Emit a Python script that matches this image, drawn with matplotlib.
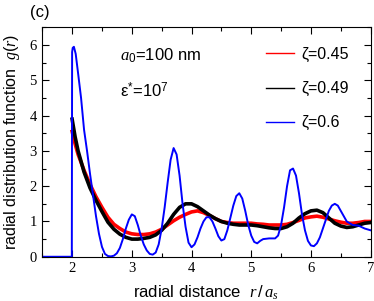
import matplotlib
matplotlib.use("Agg")
import matplotlib.pyplot as plt
from matplotlib.ticker import MultipleLocator
from matplotlib.lines import Line2D

plt.rcParams['font.family'] = ['Liberation Sans', 'DejaVu Sans']
plt.rcParams['mathtext.fontset'] = 'custom'
plt.rcParams['mathtext.rm'] = 'Liberation Sans'
plt.rcParams['mathtext.sf'] = 'Liberation Sans'
plt.rcParams['mathtext.it'] = 'Liberation Serif:italic'

# zeta = 0.6 (blue)
r_blue = [1.5, 1.995, 2.0, 2.01, 2.03, 2.06, 2.1, 2.15, 2.2, 2.25, 2.3, 2.35, 2.4, 2.45,
          2.5, 2.55, 2.6, 2.65, 2.7, 2.75, 2.8, 2.85, 2.9, 2.95, 3.0, 3.05, 3.1, 3.15,
          3.2, 3.25, 3.3, 3.35, 3.4, 3.45, 3.5, 3.55, 3.6, 3.65, 3.7, 3.75, 3.8, 3.85,
          3.9, 3.95, 4.0, 4.05, 4.1, 4.15, 4.2, 4.25, 4.3, 4.35, 4.4, 4.45, 4.5, 4.55,
          4.6, 4.65, 4.7, 4.75, 4.8, 4.85, 4.9, 4.95, 5.0, 5.05, 5.1, 5.15, 5.2, 5.3,
          5.4, 5.45, 5.5, 5.55, 5.6, 5.65, 5.7, 5.75, 5.8, 5.85, 5.9, 5.95, 6.0, 6.05,
          6.1, 6.15, 6.2, 6.25, 6.3, 6.35, 6.4, 6.45, 6.5, 6.55, 6.6, 6.7, 6.8, 6.9, 7.0]
g_blue = [0.0, 0.0, 5.8, 5.92, 5.95, 5.75, 5.2, 4.5, 3.6, 3.0, 2.35, 1.75, 1.15, 0.65,
          0.28, 0.08, 0.02, 0.01, 0.03, 0.1, 0.25, 0.5, 0.8, 1.05, 1.2, 1.15, 0.9, 0.6,
          0.35, 0.18, 0.08, 0.06, 0.12, 0.35, 0.8, 1.4, 2.1, 2.75, 3.08, 2.9, 2.3, 1.5,
          0.85, 0.4, 0.27, 0.35, 0.55, 0.8, 1.0, 1.12, 1.12, 1.0, 0.8, 0.58, 0.46, 0.5,
          0.75, 1.1, 1.45, 1.72, 1.8, 1.65, 1.3, 0.9, 0.6, 0.42, 0.38, 0.45, 0.5, 0.52,
          0.52, 0.6, 0.9, 1.4, 2.0, 2.45, 2.5, 2.3, 1.8, 1.2, 0.75, 0.45, 0.32, 0.3,
          0.38, 0.55, 0.8, 1.05, 1.3, 1.45, 1.5, 1.45, 1.3, 1.15, 1.0, 0.9, 0.88, 0.8, 0.75]

# zeta = 0.49 (black)
r_black = [2.0, 2.05, 2.1, 2.15, 2.2, 2.3, 2.4, 2.5, 2.6, 2.7, 2.8, 2.9, 3.0, 3.1, 3.2,
           3.3, 3.4, 3.5, 3.6, 3.7, 3.8, 3.9, 4.0, 4.1, 4.2, 4.3, 4.4, 4.5, 4.6, 4.7,
           4.8, 4.9, 5.0, 5.1, 5.2, 5.3, 5.4, 5.5, 5.6, 5.7, 5.8, 5.9, 6.0, 6.1, 6.2,
           6.3, 6.4, 6.5, 6.6, 6.7, 6.8, 6.9, 7.0]
g_black = [3.9, 3.4, 3.0, 2.7, 2.4, 1.95, 1.6, 1.28, 0.98, 0.78, 0.64, 0.55, 0.5, 0.5, 0.52,
           0.55, 0.62, 0.75, 0.95, 1.2, 1.4, 1.5, 1.5, 1.42, 1.3, 1.18, 1.08, 1.0, 0.95, 0.92,
           0.9, 0.9, 0.9, 0.88, 0.85, 0.82, 0.8, 0.8, 0.85, 0.95, 1.1, 1.22, 1.3, 1.32, 1.25,
           1.1, 0.95, 0.87, 0.83, 0.85, 0.9, 0.95, 0.97]

# zeta = 0.45 (red)
r_red = [2.0, 2.05, 2.1, 2.2, 2.3, 2.4, 2.5, 2.6, 2.7, 2.8, 2.9, 3.0, 3.1, 3.2, 3.3,
         3.4, 3.5, 3.6, 3.7, 3.8, 3.9, 4.0, 4.1, 4.2, 4.3, 4.4, 4.5, 4.6, 4.7, 4.8,
         4.9, 5.0, 5.1, 5.2, 5.3, 5.4, 5.5, 5.6, 5.7, 5.8, 5.9, 6.0, 6.1, 6.2, 6.3,
         6.4, 6.5, 6.6, 6.7, 6.8, 6.9, 7.0]
g_red = [3.55, 3.2, 2.9, 2.45, 2.05, 1.7, 1.4, 1.12, 0.92, 0.8, 0.7, 0.65, 0.63, 0.63, 0.65,
         0.7, 0.78, 0.9, 1.02, 1.12, 1.2, 1.27, 1.3, 1.25, 1.17, 1.08, 1.0, 0.97, 0.95, 0.95,
         0.95, 0.95, 0.93, 0.92, 0.9, 0.9, 0.9, 0.92, 0.97, 1.03, 1.1, 1.13, 1.15, 1.12, 1.07,
         1.02, 0.98, 0.95, 0.95, 0.97, 1.0, 1.0]

labels = ['ζ=0.45', 'ζ=0.49', 'ζ=0.6']
colors = ['#ff0000', 'black', '#0000ff']
x_ticks = [2, 3, 4, 5, 6, 7]
y_ticks = [0, 1, 2, 3, 4, 5, 6]

fig = plt.figure(figsize=(3.74, 3.01), dpi=100)
ax = fig.add_axes([0.113, 0.147, 0.878, 0.762])

ax.plot(r_red, g_red, color=colors[0], lw=2.6)
ax.plot(r_black, g_black, color=colors[1], lw=2.6)
ax.plot(r_blue, g_blue, color=colors[2], lw=1.4)

ax.set_xlim(1.5, 7)
ax.set_ylim(0, 6.5)
ax.set_xticks(x_ticks)
ax.set_yticks(y_ticks)
ax.xaxis.set_minor_locator(MultipleLocator(0.5))
ax.yaxis.set_minor_locator(MultipleLocator(0.5))
ax.tick_params(which='both', direction='in', top=True, right=True)
ax.tick_params(which='major', length=5, width=0.8)
ax.tick_params(which='minor', length=3, width=0.8)
for lab in ax.get_xticklabels() + ax.get_yticklabels():
    lab.set_fontfamily('Liberation Serif')
    lab.set_fontsize(10.5)
ax.tick_params(axis='x', pad=4)
ax.tick_params(axis='y', pad=4)

ax.set_xlabel(r'radial distance  $r\,/\,a_s$', fontsize=12, labelpad=6)
ax.set_ylabel(r'radial distribution function  $g(r)$', fontsize=11.5, labelpad=5)

ax.text(0.238, 0.875, r'$a_{\mathsf{0}}$=100 nm', transform=ax.transAxes, fontsize=12,
        va='center', ha='left')
ax.text(0.238, 0.722, r'ε$^{*}$=10$^{7}$', transform=ax.transAxes, fontsize=12,
        va='center', ha='left')
fig.text(0.08, 0.96, '(c)', fontsize=12, va='center', ha='left')

handles = [Line2D([], [], color=c, lw=1.0) for c in colors]
ax.legend(handles, labels, loc='upper left', bbox_to_anchor=(0.682, 0.915), frameon=False,
          fontsize=11.5, handlelength=1.75, handletextpad=0.45, labelspacing=1.2,
          borderaxespad=0, borderpad=0)

fig.savefig('out.png', dpi=100)
